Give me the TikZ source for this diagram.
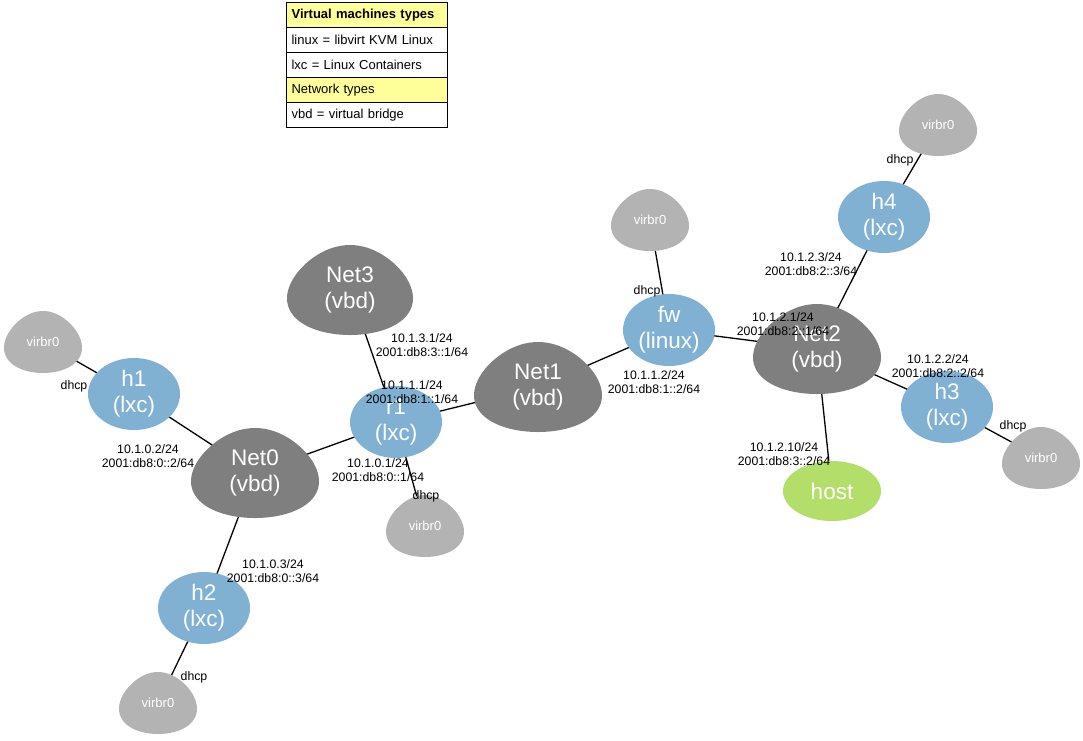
\documentclass[tikz,border=0pt]{standalone}
\usepackage{fontspec}
\setmainfont{Liberation Sans}
\usetikzlibrary{shapes.geometric}
\pgfdeclarelayer{edgelayer}
\pgfdeclarelayer{shapelayer}
\pgfsetlayers{edgelayer,shapelayer,main}
\definecolor{netgray}{HTML}{7F7F7F}
\definecolor{virgray}{HTML}{B3B3B3}
\definecolor{lxcblue}{HTML}{80B1D3}
\definecolor{hostgreen}{HTML}{B3DE69}
\definecolor{legyellow}{HTML}{FFFF99}
\newcommand\eggat[4]{%
  \begin{pgfonlayer}{shapelayer}
  \fill[#4, shift={(#1.center)}] plot[smooth cycle, samples=72, domain=0:355, variable=\t]
    ({#2/2/1.019*cos(\t)*(1+0.2*sin(\t))},{#3/2*sin(\t)});
  \end{pgfonlayer}}
\begin{document}
\begin{tikzpicture}[x=1pt,y=-1pt,
  nodetext/.style={text=white, font=\fontsize{22.5}{26}\selectfont, align=center, inner sep=0pt},
  lxc/.style={ellipse, fill=lxcblue, minimum width=92pt, minimum height=72pt, nodetext},
  hostnode/.style={ellipse, fill=hostgreen, minimum width=98pt, minimum height=60pt, nodetext},
  eggnode/.style={nodetext},
  vir/.style={text=white, font=\fontsize{13}{15}\selectfont, inner sep=0pt},
  lbl/.style={font=\fontsize{12.3}{13.5}\selectfont, align=center, inner sep=0pt},
  link/.style={line width=1.3pt, black},
  legrow/.style={draw=black, line width=1.2pt, minimum width=161pt, minimum height=25pt,
     anchor=north west, text width=151pt, align=left, inner xsep=5pt, font=\fontsize{13}{15}\selectfont},
]
\useasboundingbox (0,0) rectangle (1083,740);
\begin{pgfonlayer}{edgelayer}
\fill[white] (0,0) rectangle (1083,740);
\end{pgfonlayer}

% legend
\node[legrow, fill=legyellow, font=\fontsize{13}{15}\selectfont\bfseries] (leg1) at (286,2) {Virtual machines types};
\node[legrow, fill=white] (leg2) at (286,27) {linux = libvirt KVM Linux};
\node[legrow, fill=white] (leg3) at (286,52) {lxc = Linux Containers};
\node[legrow, fill=legyellow] (leg4) at (286,77) {Network types};
\node[legrow, fill=white] (leg5) at (286,102) {vbd = virtual bridge};

% nodes
\node[eggnode] (net3) at (350,290) {Net3\\(vbd)};
\node[eggnode] (net1) at (538,387) {Net1\\(vbd)};
\node[eggnode] (net2) at (817,349) {Net2\\(vbd)};
\node[eggnode] (net0) at (255,473) {Net0\\(vbd)};
\node[lxc] (r1) at (396,422) {r1\\(lxc)};
\node[lxc] (fw) at (669,330) {fw\\(linux)};
\node[lxc] (h4) at (884,217) {h4\\(lxc)};
\node[lxc] (h3) at (947,407) {h3\\(lxc)};
\node[lxc] (h1) at (134,394) {h1\\(lxc)};
\node[lxc] (h2) at (204,608) {h2\\(lxc)};
\node[hostnode] (host) at (832,491) {host};
\node[vir] (v4) at (938,125) {virbr0};
\node[vir] (vfw) at (650,220) {virbr0};
\node[vir] (v3) at (1041,458) {virbr0};
\node[vir] (v1) at (43,342) {virbr0};
\node[vir] (v2) at (158,703) {virbr0};
\node[vir] (vr1) at (425,526) {virbr0};

\eggat{net3}{126}{90}{netgray}
\eggat{net1}{128}{90}{netgray}
\eggat{net2}{128}{90}{netgray}
\eggat{net0}{128}{90}{netgray}
\eggat{v4}{78}{62}{virgray}
\eggat{vfw}{78}{62}{virgray}
\eggat{v3}{78}{62}{virgray}
\eggat{v1}{78}{62}{virgray}
\eggat{v2}{78}{62}{virgray}
\eggat{vr1}{78}{62}{virgray}

% edges
\begin{pgfonlayer}{edgelayer}
\foreach \a/\b in {h1/v1, h1/net0, net0/r1, net0/h2, h2/v2, r1/net3, r1/net1, r1/vr1,
  net1/fw, fw/vfw, fw/net2, net2/h4, h4/v4, net2/h3, h3/v3, net2/host}
  \draw[link] (\a.center) -- (\b.center);
\end{pgfonlayer}

% edge labels
\node[lbl] (l1) at (422,345) {10.1.3.1/24\\2001:db8:3::1/64};
\node[lbl] (l2) at (412,392) {10.1.1.1/24\\2001:db8:1::1/64};
\node[lbl] (l3) at (378,470) {10.1.0.1/24\\2001:db8:0::1/64};
\node[lbl] (l4) at (426,496) {dhcp};
\node[lbl] (l5) at (654,382) {10.1.1.2/24\\2001:db8:1::2/64};
\node[lbl] (l6) at (647,291) {dhcp};
\node[lbl] (l7) at (783,324) {10.1.2.1/24\\2001:db8:2::1/64};
\node[lbl] (l8) at (811,264) {10.1.2.3/24\\2001:db8:2::3/64};
\node[lbl] (l9) at (900,160) {dhcp};
\node[lbl] (l10) at (938,366) {10.1.2.2/24\\2001:db8:2::2/64};
\node[lbl] (l11) at (1013,426) {dhcp};
\node[lbl] (l12) at (784,454) {10.1.2.10/24\\2001:db8:3::2/64};
\node[lbl] (l13) at (148,456) {10.1.0.2/24\\2001:db8:0::2/64};
\node[lbl] (l14) at (74,386) {dhcp};
\node[lbl] (l15) at (273,571) {10.1.0.3/24\\2001:db8:0::3/64};
\node[lbl] (l16) at (194,677) {dhcp};
\end{tikzpicture}
\end{document}
